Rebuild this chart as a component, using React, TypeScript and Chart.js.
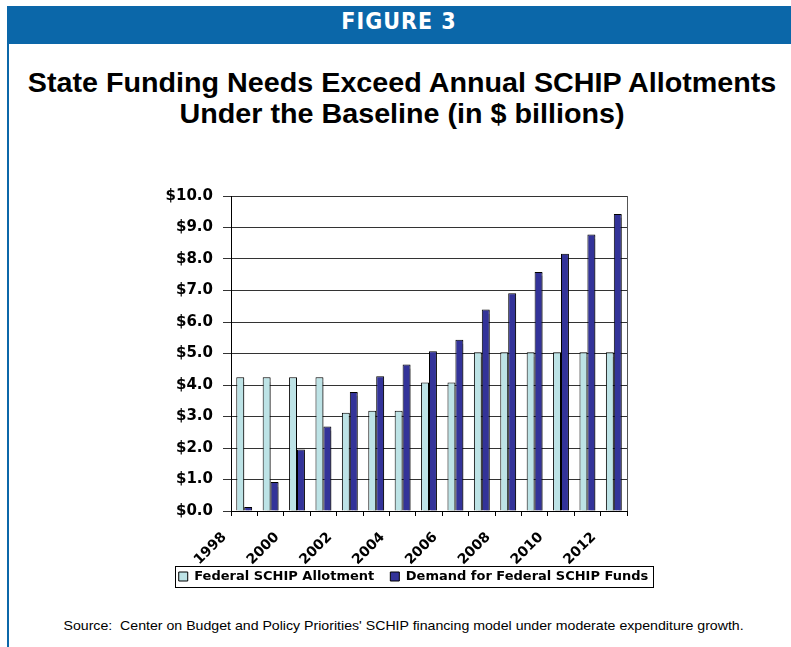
import React, { useEffect, useRef } from "react";
import { Chart, registerables } from "chart.js";

Chart.register(...registerables);

const years = ["1998", "1999", "2000", "2001", "2002", "2003", "2004", "2005", "2006", "2007", "2008", "2009", "2010", "2011", "2012"];
const allotment = [4.25, 4.25, 4.25, 4.25, 3.12, 3.18, 3.18, 4.08, 4.08, 5.04, 5.04, 5.04, 5.04, 5.04, 5.04];
const demand = [0.13, 0.92, 1.95, 2.68, 3.78, 4.28, 4.65, 5.07, 5.44, 6.4, 6.91, 7.59, 8.17, 8.78, 9.43];
const seriesNames = ["Federal SCHIP Allotment", "Demand for Federal SCHIP Funds"];
const yMin = 0;
const yMax = 10;
const yStep = 1;

const BLUE = "#0B67A9";
const CHART_FONT = "'DejaVu Sans', sans-serif";

const legendBorder = {
  id: "legendBorder",
  afterDraw(chart: any) {
    const lg = chart.legend;
    if (!lg || !lg.legendHitBoxes || !lg.legendHitBoxes.length) return;
    const boxes = lg.legendHitBoxes;
    let l = Infinity, r = -Infinity, t = Infinity, b = -Infinity;
    boxes.forEach((h: any) => {
      l = Math.min(l, h.left);
      r = Math.max(r, h.left + h.width);
      t = Math.min(t, h.top);
      b = Math.max(b, h.top + h.height);
    });
    const ctx = chart.ctx;
    ctx.save();
    ctx.strokeStyle = "#000";
    ctx.lineWidth = 1;
    ctx.strokeRect(Math.round(l - 4) + 0.5, Math.round(t - 4) + 0.5, Math.round(r - l + 8), Math.round(b - t + 8));
    ctx.restore();
  },
};

// let the rotated year labels run below the x axis box (Chart.js clips them to it otherwise)
const noClipX = {
  id: "noClipX",
  beforeDraw(chart: any) {
    const s = chart.scales.x;
    if (s) s._computeLabelArea = () => undefined;
  },
};

const plotFrame = {
  id: "plotFrame",
  beforeDatasetsDraw(chart: any) {
    const ctx = chart.ctx;
    ctx.save();
    ctx.shadowColor = "rgba(0,0,0,0.35)";
    ctx.shadowOffsetX = 2;
    ctx.shadowOffsetY = 1;
    ctx.shadowBlur = 1;
  },
  afterDatasetsDraw(chart: any) {
    chart.ctx.restore();
  },
  afterDraw(chart: any) {
    const { ctx, chartArea } = chart;
    ctx.save();
    ctx.strokeStyle = "#555";
    ctx.lineWidth = 1;
    ctx.beginPath();
    ctx.moveTo(Math.round(chartArea.right) + 0.5, chartArea.top);
    ctx.lineTo(Math.round(chartArea.right) + 0.5, chartArea.bottom);
    ctx.stroke();
    ctx.restore();
  },
};

function BarChart() {
  const ref = useRef<HTMLCanvasElement>(null);
  useEffect(() => {
    if (!ref.current) return;
    const chart = new Chart(ref.current, {
      type: "bar",
      data: {
        labels: years,
        datasets: [
          {
            label: seriesNames[0],
            data: allotment,
            backgroundColor: "#BDE3E6",
            borderColor: "#000",
            borderWidth: 1,
            categoryPercentage: 0.6,
            barPercentage: 1.0,
          },
          {
            label: seriesNames[1],
            data: demand,
            backgroundColor: "#333399",
            borderColor: "#000",
            borderWidth: 1,
            categoryPercentage: 0.6,
            barPercentage: 1.0,
          },
        ],
      },
      options: {
        responsive: false,
        animation: false,
        layout: { padding: { top: 8, left: 0, right: 0, bottom: 0 } },
        plugins: {
          tooltip: { enabled: false },
          title: { display: false },
          legend: {
            position: "bottom",
            labels: {
              boxWidth: 9,
              boxHeight: 9,
              padding: 16,
              color: "#000",
              font: { family: CHART_FONT, size: 13, weight: "bold" },
            },
          },
        },
        scales: {
          x: {
            grid: { offset: true, drawOnChartArea: false, drawTicks: true, tickLength: 5, color: "#000" },
            border: { color: "#000", width: 1 },
            ticks: {
              autoSkip: false,
              maxRotation: 45,
              minRotation: 45,
              padding: 13,
              labelOffset: -20,
              color: "#000",
              font: { family: CHART_FONT, size: 14, weight: "bold" },
              callback: (_v: any, i: number) => (i % 2 === 0 ? years[i] : ""),
            },
            afterFit: (s: any) => {
              s.height = 43;
            },
          },
          y: {
            min: yMin,
            max: yMax,
            grid: { color: "#333", lineWidth: 1, tickLength: 8 },
            border: { color: "#000", width: 1 },
            ticks: {
              stepSize: yStep,
              padding: 10,
              color: "#000",
              font: { family: CHART_FONT, size: 15, weight: "bold" },
              callback: (v: any) => "$" + Number(v).toFixed(1),
            },
            afterFit: (s: any) => {
              s.width = 91;
            },
          },
          y2: {
            position: "right",
            display: true,
            grid: { display: false, drawOnChartArea: false },
            border: { display: false },
            ticks: { display: false },
            afterFit: (s: any) => {
              s.width = 60;
            },
          },
        },
      },
      plugins: [legendBorder, plotFrame, noClipX],
    });
    return () => chart.destroy();
  }, []);
  return <canvas ref={ref} width={547} height={416} style={{ display: "block" }} />;
}

export default function App() {
  return (
    <div style={{ position: "absolute", left: 0, top: 0, width: 791, height: 647, background: "#fff", overflow: "hidden", fontFamily: "'Liberation Sans', Arial, sans-serif" }}>
      <div style={{ position: "absolute", left: 7, top: 6, width: 784, height: 38, background: BLUE }} />
      <div style={{ position: "absolute", left: 7, top: 44, width: 2, height: 603, background: BLUE }} />
      <div style={{ position: "absolute", left: 7, top: 9.5, width: 784, textAlign: "center", lineHeight: "23px", fontSize: 23, color: "#fff", fontWeight: "bold", fontFamily: "'DejaVu Sans Condensed', 'DejaVu Sans', sans-serif", fontStretch: "condensed", letterSpacing: "1px" }}>
        <span style={{ display: "inline-block" }}>FIGURE 3</span>
      </div>
      <div style={{ position: "absolute", left: 0, top: 67.5, width: 805, textAlign: "center", fontSize: 27, lineHeight: "31px", fontWeight: "bold", color: "#000" }}>
        <span style={{ display: "inline-block", transform: "scaleX(1.063)", transformOrigin: "center" }}>
          State Funding Needs Exceed Annual SCHIP Allotments
          <br />
          Under the Baseline (in $ billions)
        </span>
      </div>
      <div style={{ position: "absolute", left: 140, top: 177 }}>
        <BarChart />
      </div>
      <div style={{ position: "absolute", left: 0, top: 619, width: 808, textAlign: "center", fontSize: 13, lineHeight: "14px", color: "#000" }}>
        <span style={{ display: "inline-block", transform: "scaleX(1.088)", transformOrigin: "center" }}>
          Source:&nbsp; Center on Budget and Policy Priorities' SCHIP financing model under moderate expenditure growth.
        </span>
      </div>
    </div>
  );
}
